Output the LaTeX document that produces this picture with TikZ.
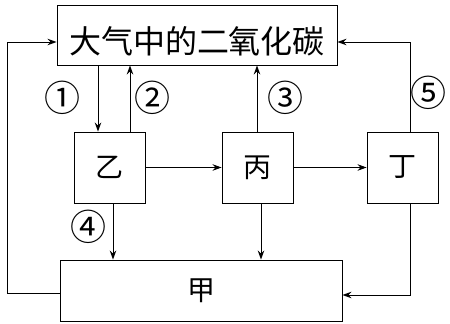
\documentclass[tikz,border=0pt]{standalone}
\usepackage{fontspec}
\newfontfamily\cjk{Noto Sans CJK SC}
\usetikzlibrary{arrows.meta}
\begin{document}
\begin{tikzpicture}[x=1pt,y=-1pt,
  box/.style={draw,line width=0.9pt,inner sep=0pt,font=\cjk\fontsize{28}{28}\selectfont},
  arr/.style={draw,line width=0.9pt,-{Stealth[length=9pt,width=6.5pt]}},
  num/.style={font=\cjk\fontsize{36}{36}\selectfont,inner sep=0pt}]
\useasboundingbox (0,0) rectangle (450,324);
\node[box,minimum width=280pt,minimum height=60pt] (top) at (197,35) {};
\node[font=\cjk\fontsize{32}{32}\selectfont,inner sep=0pt] (toptxt) at (197,41) {大气中的二氧化碳};
\node[box,minimum width=71pt,minimum height=71pt] (yi) at (109.5,167.5) {乙};
\node[box,minimum width=71pt,minimum height=71pt] (bing) at (257.5,167.5) {丙};
\node[box,minimum width=71pt,minimum height=71pt] (ding) at (402.5,167.5) {丁};
\node[box,minimum width=282pt,minimum height=61pt] (jia) at (201,290.5) {甲};
\coordinate (c1) at (98,0);
\coordinate (c2) at (130,0);
\coordinate (c3) at (257,0);
\coordinate (c4) at (113,0);
\coordinate (c6) at (261,0);
\coordinate (c5) at (410,0);
\coordinate (rowA) at (0,42);
\coordinate (rowB) at (0,295);
\coordinate (rowC) at (0,293);
\coordinate (lx) at (7,0);
\path[arr] (top.south -| c1) -- (yi.north -| c1);
\path[arr] (yi.north -| c2) -- (top.south -| c2);
\path[arr] (bing.north -| c3) -- (top.south -| c3);
\path[arr] (yi.east) -- (bing.west);
\path[arr] (bing.east) -- (ding.west);
\path[arr] (yi.south -| c4) -- (jia.north -| c4);
\path[arr] (bing.south -| c6) -- (jia.north -| c6);
\path[arr] (ding.north -| c5) -- (c5 |- rowA) -- (top.east |- rowA);
\path[arr] (ding.south -| c5) -- (c5 |- rowB) -- (jia.east |- rowB);
\path[arr] (jia.west |- rowC) -- (lx |- rowC) -- (lx |- rowA) -- (top.west |- rowA);
\node[num] (n1) at (62,98) {①};
\node[num] (n2) at (152,98) {②};
\node[num] (n3) at (285,98) {③};
\node[num] (n4) at (88,227) {④};
\node[num] (n5) at (428,93) {⑤};
\end{tikzpicture}
\end{document}
